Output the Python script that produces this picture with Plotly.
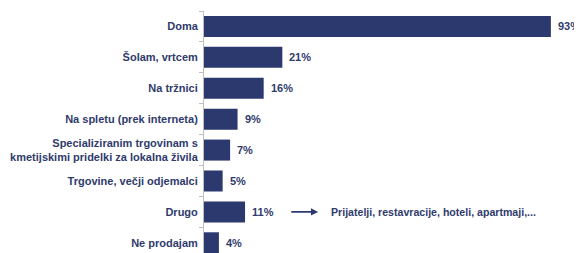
import plotly.graph_objects as go

categories = [
    "Doma",
    "Šolam, vrtcem",
    "Na tržnici",
    "Na spletu (prek interneta)",
    "Specializiranim trgovinam s<br>kmetijskimi pridelki za lokalna živila",
    "Trgovine, večji odjemalci",
    "Drugo",
    "Ne prodajam",
]
values = [93, 21, 16, 9, 7, 5, 11, 4]
note_category = "Drugo"
note_text = "Prijatelji, restavracije, hoteli, apartmaji,..."

NAVY = "#2c396e"
TEXT = "#2f3b6c"
FONT = "Liberation Sans"

fig = go.Figure(go.Bar(
    x=values, y=categories, orientation="h",
    marker=dict(color=NAVY, line=dict(width=0)),
    width=0.68,
))

annotations = []
for c, v in zip(categories, values):
    annotations.append(dict(
        x=v, y=c, xref="x", yref="y", text=f"<b>{v}%</b>", showarrow=False,
        xanchor="left", xshift=5, font=dict(family=FONT, size=11, color=TEXT),
    ))

# arrow and note for "Drugo"
annotations.append(dict(
    x=30.6, y=note_category, xref="x", yref="y", ax=23.0, ay=note_category,
    axref="x", ayref="y", text="", showarrow=True, arrowhead=2, arrowsize=0.9,
    arrowwidth=1.6, arrowcolor=NAVY,
))
annotations.append(dict(
    x=33.6, y=note_category, xref="x", yref="y", text=f"<b>{note_text}</b>",
    showarrow=False, xanchor="left", font=dict(family=FONT, size=10.6, color=TEXT),
))

# page body has an 8px margin, so the figure is shrunk and shifted to compensate
fig.update_layout(
    width=574, height=245,
    margin=dict(l=196, r=5, t=3, b=0),
    paper_bgcolor="white", plot_bgcolor="white",
    showlegend=False,
    annotations=annotations,
    font=dict(family=FONT, size=11, color=TEXT),
)
fig.update_xaxes(range=[0, 100], visible=False, showgrid=False, zeroline=False)
fig.update_yaxes(
    type="category", range=[7.33, -0.5],
    showline=True, linecolor="#bfbfbf", linewidth=1,
    ticks="outside", tickson="boundaries", ticklen=4, tickcolor="#bfbfbf",
    showgrid=False, ticklabelstandoff=3,
    tickfont=dict(family=FONT, size=11, color=TEXT, weight="bold"),
)
fig.update_traces(cliponaxis=False)

fig.write_html("out.html")
